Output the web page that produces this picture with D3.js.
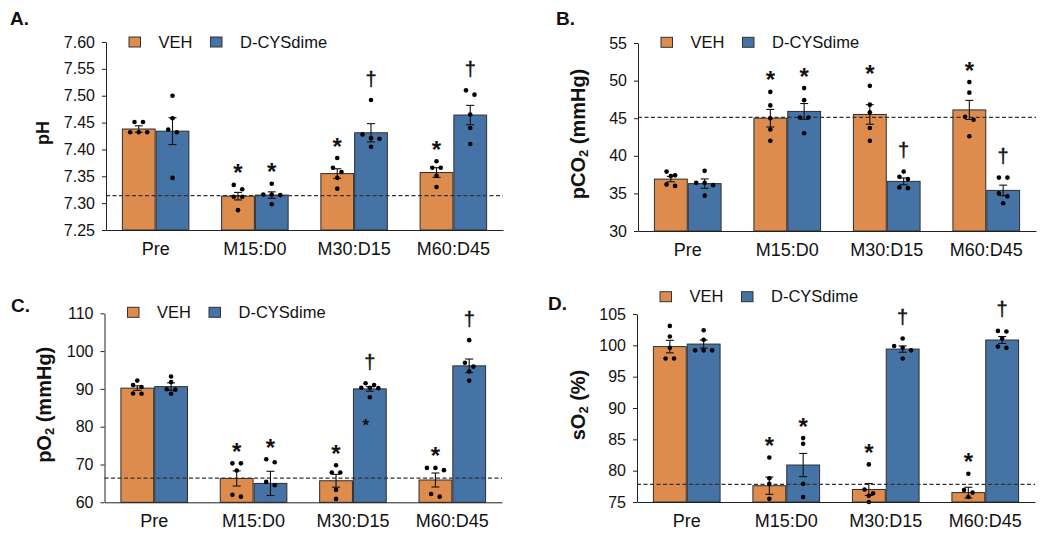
<!DOCTYPE html>
<html><head><meta charset="utf-8">
<script src="https://cdn.jsdelivr.net/npm/d3@7"></script>
<style>
body{margin:0;background:#fff}
svg{display:block}
text{font-family:"Liberation Sans",Arial,Helvetica,sans-serif;fill:#111}
</style>
</head><body>
<svg id="chart" width="1050" height="538"></svg>
<script>
// ---------- shared ----------
const categories = ["Pre", "M15:D0", "M30:D15", "M60:D45"];
const seriesNames = ["VEH", "D-CYSdime"];
const vehMarks = ["", "*", "*", "*"];
const dcysMarks = ["", "*", "\u2020", "\u2020"];

// ---------- Panel A: pH ----------
const phTicks = [7.25, 7.30, 7.35, 7.40, 7.45, 7.50, 7.55, 7.60];
const phVehMean = [7.438, 7.313, 7.355, 7.357];
const phVehSem = [0.006, 0.007, 0.009, 0.009];
const phDcysMean = [7.434, 7.315, 7.431, 7.464];
const phDcysSem = [0.025, 0.006, 0.017, 0.018];
const phVehDots = [[7.451, 7.451, 7.432, 7.432, 7.432], [7.334, 7.326, 7.312, 7.312, 7.287], [7.384, 7.366, 7.358, 7.347, 7.327], [7.378, 7.366, 7.366, 7.351, 7.330]];
const phDcysDots = [[7.500, 7.458, 7.437, 7.432, 7.347], [7.336, 7.316, 7.315, 7.316, 7.298], [7.492, 7.428, 7.421, 7.420, 7.405], [7.510, 7.502, 7.465, 7.440, 7.410]];
const phRef = 7.314;

// ---------- Panel B: pCO2 ----------
const co2Ticks = [30, 35, 40, 45, 50, 55];
const co2VehMean = [36.9, 45.0, 45.5, 46.1];
const co2VehSem = [0.36, 1.17, 1.3, 1.27];
const co2DcysMean = [36.3, 45.9, 36.6, 35.4];
const co2DcysSem = [0.62, 1.05, 0.45, 0.7];
const co2VehDots = [[37.9, 37.4, 37.3, 36.2, 36.0], [48.5, 46.7, 45.0, 43.5, 42.0], [49.3, 46.8, 45.8, 43.7, 42.0], [49.8, 48.4, 45.2, 44.8, 42.6]];
const co2DcysDots = [[38.0, 36.4, 36.4, 36.1, 34.7], [49.0, 47.4, 45.1, 45.1, 43.0], [37.9, 37.2, 36.9, 35.8, 35.7], [37.1, 37.1, 35.0, 34.6, 33.7]];
const co2Ref = 45.1;

// ---------- Panel C: pO2 ----------
const o2Ticks = [60, 70, 80, 90, 100, 110];
const o2VehMean = [90.2, 66.3, 65.7, 65.9];
const o2VehSem = [0.6, 2.0, 1.7, 1.85];
const o2DcysMean = [90.6, 65.0, 90.0, 96.1];
const o2DcysSem = [1.0, 3.2, 0.6, 1.8];
const o2VehDots = [[92.2, 91.0, 90.5, 88.8, 88.7], [70.3, 70.3, 68.4, 62.0, 61.5], [69.8, 67.9, 67.9, 63.3, 60.9], [69.1, 69.1, 68.5, 62.2, 61.5]];
const o2DcysDots = [[93.3, 91.8, 89.9, 89.8, 88.7], [71.4, 70.6, 65.4, 64.5], [91.5, 91.0, 90.3, 90.3, 90.2, 87.8], [102.9, 96.9, 95.9, 94.6, 92.2]];
const o2DcysExtra = [null, null, 81.3, null];
const o2Ref = 66.4;

// ---------- Panel D: sO2 ----------
const so2Ticks = [75, 80, 85, 90, 95, 100, 105];
const so2VehMean = [99.8, 77.6, 77.0, 76.5];
const so2VehSem = [1.0, 1.37, 0.95, 0.85];
const so2DcysMean = [100.2, 80.9, 99.4, 100.85];
const so2DcysSem = [0.65, 1.85, 0.5, 0.55];
const so2VehDots = [[103.1, 101.4, 99.6, 97.9, 97.9], [82.1, 78.8, 77.9, 75.5], [81.0, 77.0, 76.4, 76.0, 75.0], [79.5, 76.9, 76.5, 75.8]];
const so2DcysDots = [[102.4, 100.9, 99.2, 99.2, 99.2], [85.2, 84.3, 77.9, 75.8], [101.1, 99.9, 99.6, 99.2, 97.9], [102.3, 102.2, 101.1, 99.8, 99.6]];
const so2Ref = 77.8;

// ---------- styling ----------
const VEH_COLOR = "#DE8C4D";
const DCYS_COLOR = "#4673A6";
const svg = d3.select("#chart");

const panels = [
  {letter: "A.", lx: 10, ly: 25, title: ["pH"], titleSize: 18, tx: 43, left: 106, right: 503, top: 42, bottom: 230,
   ticks: phTicks, fmt: d3.format(".2f"), vehMean: phVehMean, vehSem: phVehSem, dcysMean: phDcysMean, dcysSem: phDcysSem,
   vehDots: phVehDots, dcysDots: phDcysDots, ref: phRef, legY: 42},
  {letter: "B.", lx: 556, ly: 25, title: ["pCO", "2", " (mmHg)"], titleSize: 20, tx: 578, left: 638, right: 1036, top: 43, bottom: 231,
   ticks: co2Ticks, fmt: d3.format("d"), vehMean: co2VehMean, vehSem: co2VehSem, dcysMean: co2DcysMean, dcysSem: co2DcysSem,
   vehDots: co2VehDots, dcysDots: co2DcysDots, ref: co2Ref, legY: 42.3},
  {letter: "C.", lx: 11, ly: 312, title: ["pO", "2", " (mmHg)"], titleSize: 20, tx: 44, left: 104.5, right: 502, top: 313.3, bottom: 502.3,
   ticks: o2Ticks, fmt: d3.format("d"), vehMean: o2VehMean, vehSem: o2VehSem, dcysMean: o2DcysMean, dcysSem: o2DcysSem,
   vehDots: o2VehDots, dcysDots: o2DcysDots, extra: o2DcysExtra, ref: o2Ref, legY: 312.3},
  {letter: "D.", lx: 548, ly: 310, title: ["sO", "2", " (%)"], titleSize: 20, tx: 578, left: 637, right: 1035, top: 314, bottom: 502,
   ticks: so2Ticks, fmt: d3.format("d"), vehMean: so2VehMean, vehSem: so2VehSem, dcysMean: so2DcysMean, dcysSem: so2DcysSem,
   vehDots: so2VehDots, dcysDots: so2DcysDots, ref: so2Ref, legY: 296.7}
];

function swarm(values, y, cx) {
  // group near-equal pixel values into rows and spread them horizontally
  const sorted = values.map(v => ({v, py: y(v)})).sort((a, b) => a.py - b.py);
  const rows = [];
  sorted.forEach(p => {
    const last = rows[rows.length - 1];
    if (last && Math.abs(p.py - last[0].py) < 4.5) last.push(p); else rows.push([p]);
  });
  const out = [];
  rows.forEach(r => r.forEach((p, i) => out.push({x: cx + (i - (r.length - 1) / 2) * 8.5, y: p.py})));
  return out;
}

panels.forEach(p => {
  const g = svg.append("g");
  const x = d3.scaleBand().domain(categories).range([p.left, p.right]).paddingInner(0).paddingOuter(0);
  const y = d3.scaleLinear().domain([p.ticks[0], p.ticks[p.ticks.length - 1]]).range([p.bottom, p.top]);
  const bw = x.bandwidth() * 0.33;
  const series = [
    {mean: p.vehMean, sem: p.vehSem, dots: p.vehDots, marks: vehMarks, color: VEH_COLOR, off: -1},
    {mean: p.dcysMean, sem: p.dcysSem, dots: p.dcysDots, marks: dcysMarks, color: DCYS_COLOR, off: 0, extra: p.extra}
  ];

  // bars
  series.forEach(s => {
    g.selectAll(null).data(categories).enter().append("rect")
      .attr("x", c => x(c) + x.bandwidth() / 2 + s.off * bw + (s.off < 0 ? -0.5 : 0.5))
      .attr("y", (c, i) => y(s.mean[i]))
      .attr("width", bw)
      .attr("height", (c, i) => y(p.ticks[0]) - y(s.mean[i]))
      .attr("fill", s.color)
      .attr("stroke", "#2e2e2e").attr("stroke-width", 1);
  });

  // reference dashed line
  g.append("line").attr("x1", p.left).attr("x2", p.right).attr("y1", y(p.ref)).attr("y2", y(p.ref))
    .attr("stroke", "#333").attr("stroke-width", 1.2).attr("stroke-dasharray", "4,2.5");

  // error bars, dots, markers
  series.forEach(s => {
    categories.forEach((c, i) => {
      const cx = x(c) + x.bandwidth() / 2 + s.off * bw + bw / 2 + (s.off < 0 ? -0.5 : 0.5);
      const hi = y(s.mean[i] + s.sem[i]), lo = y(s.mean[i] - s.sem[i]);
      g.append("line").attr("x1", cx).attr("x2", cx).attr("y1", hi).attr("y2", lo).attr("stroke", "#111").attr("stroke-width", 1.1);
      [hi, lo].forEach(yy => g.append("line").attr("x1", cx - 4).attr("x2", cx + 4).attr("y1", yy).attr("y2", yy).attr("stroke", "#111").attr("stroke-width", 1.1));
      const pts = swarm(s.dots[i], y, cx);
      g.selectAll(null).data(pts).enter().append("circle")
        .attr("cx", d => d.x).attr("cy", d => d.y).attr("r", 2.3).attr("fill", "#000");
      if (s.extra && s.extra[i] != null) {
        g.append("text").attr("x", cx - 4).attr("y", y(s.extra[i]) + 9).attr("text-anchor", "middle")
          .attr("font-size", 17).attr("font-weight", "bold").text("*");
      }
      const top = Math.min(hi, d3.min(pts, d => d.y));
      const m = s.marks[i];
      if (m === "*") {
        g.append("text").attr("x", cx).attr("y", top - 17 + 13.5).attr("text-anchor", "middle")
          .attr("font-size", 24).attr("font-weight", "bold").text(m);
      } else if (m) {
        g.append("text").attr("x", cx).attr("y", top - 20 + 5.5).attr("text-anchor", "middle")
          .attr("font-size", 20).attr("stroke", "#111").attr("stroke-width", 0.4).text(m);
      }
    });
  });

  // axes
  const ya = g.append("g").attr("transform", `translate(${p.left},0)`)
    .call(d3.axisLeft(y).tickValues(p.ticks).tickFormat(p.fmt).tickSize(4).tickSizeOuter(0).tickPadding(7));
  ya.selectAll("text").attr("font-size", 16).attr("font-family", "Liberation Sans, Arial, sans-serif").attr("fill", "#111");
  ya.selectAll("line,path").attr("stroke", "#222");
  const xa = g.append("g").attr("transform", `translate(0,${p.bottom})`)
    .call(d3.axisBottom(x).tickSize(0).tickSizeOuter(0).tickPadding(12));
  xa.selectAll("text").attr("font-size", 18).attr("font-family", "Liberation Sans, Arial, sans-serif").attr("fill", "#111");
  xa.select("path").attr("stroke", "#222");

  // y title
  const cy = (p.top + p.bottom) / 2 - 3;
  const t = g.append("text").attr("transform", `translate(${p.tx},${cy}) rotate(-90)`)
    .attr("text-anchor", "middle").attr("dominant-baseline", "central")
    .attr("font-weight", "bold").attr("font-size", p.titleSize);
  t.append("tspan").text(p.title[0]);
  if (p.title.length > 1) {
    t.append("tspan").attr("font-size", p.titleSize * 0.65).attr("dy", 5).text(p.title[1]);
    t.append("tspan").attr("dy", -5).text(p.title[2]);
  }

  // panel letter
  g.append("text").attr("x", p.lx).attr("y", p.ly).attr("font-weight", "bold").attr("font-size", 19).text(p.letter);

  // legend
  const legX = [p.left + 23, p.left + 104.5];
  const colors = [VEH_COLOR, DCYS_COLOR];
  seriesNames.forEach((n, i) => {
    g.append("rect").attr("x", legX[i]).attr("y", p.legY - 5).attr("width", 11.5).attr("height", 10)
      .attr("fill", colors[i]).attr("stroke", "#333").attr("stroke-width", 1);
    g.append("text").attr("x", legX[i] + 29.5).attr("y", p.legY + 5.7).attr("font-size", 16.5).text(n);
  });
});
</script>
</body></html>
